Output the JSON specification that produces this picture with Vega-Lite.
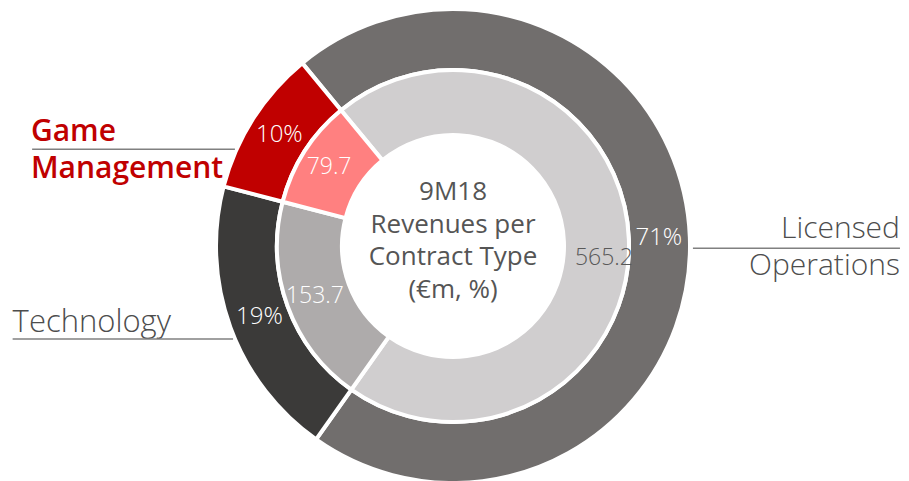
{
  "$schema": "https://vega.github.io/schema/vega-lite/v6.json",
  "width": 906,
  "height": 470,
  "autosize": {"type": "none"},
  "padding": {"left": 0, "right": 3, "top": 11, "bottom": 0},
  "background": "white",
  "config": {"view": {"stroke": null}, "font": "Open Sans"},
  "data": {"values": [
    {"contract": "Licensed Operations", "order": 1, "revenue": 565.2, "share": 0.71},
    {"contract": "Technology", "order": 2, "revenue": 153.7, "share": 0.19},
    {"contract": "Game Management", "order": 3, "revenue": 79.7, "share": 0.10}
  ]},
  "layer": [
    {
      "mark": {"type": "arc", "innerRadius": 176, "outerRadius": 237, "stroke": "white", "strokeWidth": 4},
      "encoding": {
        "theta": {"field": "revenue", "type": "quantitative", "stack": true, "scale": {"range": [-0.6894, 5.5938]}},
        "order": {"field": "order", "type": "quantitative"},
        "color": {"field": "contract", "type": "nominal", "legend": null,
          "scale": {"domain": ["Licensed Operations", "Technology", "Game Management"], "range": ["#716e6d", "#3b3a39", "#c00000"]}}
      }
    },
    {
      "mark": {"type": "arc", "innerRadius": 111, "outerRadius": 176, "stroke": "white", "strokeWidth": 4},
      "encoding": {
        "theta": {"field": "revenue", "type": "quantitative", "stack": true, "scale": {"range": [-0.6894, 5.5938]}},
        "order": {"field": "order", "type": "quantitative"},
        "color": {"field": "contract", "type": "nominal", "legend": null,
          "scale": {"domain": ["Licensed Operations", "Technology", "Game Management"], "range": ["#d0cecf", "#aeabab", "#ff8080"]}}
      }
    },
    {
      "mark": {"type": "text", "radius": 206, "fill": "white", "fontSize": 24, "fontWeight": 300, "align": "center", "baseline": "middle"},
      "encoding": {
        "theta": {"field": "revenue", "type": "quantitative", "stack": true, "scale": {"range": [-0.6894, 5.5938]}},
        "order": {"field": "order", "type": "quantitative"},
        "detail": {"field": "contract", "type": "nominal"},
        "text": {"field": "share", "type": "quantitative", "format": ".0%"}
      }
    },
    {
      "mark": {"type": "text", "radius": 147, "fill": "white", "fontSize": 23, "fontWeight": 300, "align": "center", "baseline": "middle"},
      "encoding": {
        "theta": {"field": "revenue", "type": "quantitative", "stack": true, "scale": {"range": [-0.6894, 5.5938]}},
        "order": {"field": "order", "type": "quantitative"},
        "detail": {"field": "contract", "type": "nominal"},
        "text": {"condition": {"test": "datum.contract === 'Licensed Operations'", "value": ""}, "field": "revenue", "type": "quantitative", "format": ".1f"}
      }
    },
    {
      "mark": {"type": "text", "radius": 151, "fill": "#595959", "fontSize": 23, "fontWeight": 300, "align": "center", "baseline": "middle", "dy": 18},
      "encoding": {
        "theta": {"field": "revenue", "type": "quantitative", "stack": true, "scale": {"range": [-0.6894, 5.5938]}},
        "order": {"field": "order", "type": "quantitative"},
        "detail": {"field": "contract", "type": "nominal"},
        "text": {"condition": {"test": "datum.contract !== 'Licensed Operations'", "value": ""}, "field": "revenue", "type": "quantitative", "format": ".1f"}
      }
    },
    {
      "data": {"values": [{}]},
      "mark": {"type": "text", "text": ["9M18", "Revenues per", "Contract Type", "(€m, %)"], "lineHeight": 32.7, "fontSize": 26, "fill": "#555555", "align": "center", "baseline": "alphabetic"},
      "encoding": {
        "x": {"datum": 0, "type": "quantitative", "scale": {"domain": [-1.9277, 1.9277], "nice": false, "zero": false}, "axis": null},
        "y": {"datum": 0.1957, "type": "quantitative", "scale": {"domain": [-1, 1], "nice": false, "zero": false}, "axis": null}
      }
    },
    {
      "data": {"values": [{}]},
      "mark": {"type": "text", "text": ["Game", "Management"], "lineHeight": 37.5, "fontSize": 30, "fontWeight": 600, "fill": "#c00000", "align": "left", "baseline": "alphabetic"},
      "encoding": {
        "x": {"datum": -1.796, "type": "quantitative", "scale": {"domain": [-1.9277, 1.9277], "nice": false, "zero": false}, "axis": null},
        "y": {"datum": 0.448, "type": "quantitative", "scale": {"domain": [-1, 1], "nice": false, "zero": false}, "axis": null}
      }
    },
    {
      "data": {"values": [{}]},
      "mark": {"type": "text", "text": "Technology", "fontSize": 31, "fontWeight": 300, "fill": "#4d4d4d", "align": "left", "baseline": "alphabetic"},
      "encoding": {
        "x": {"datum": -1.874, "type": "quantitative", "scale": {"domain": [-1.9277, 1.9277], "nice": false, "zero": false}, "axis": null},
        "y": {"datum": -0.367, "type": "quantitative", "scale": {"domain": [-1, 1], "nice": false, "zero": false}, "axis": null}
      }
    },
    {
      "data": {"values": [{}]},
      "mark": {"type": "text", "text": "Licensed", "fontSize": 30, "fontWeight": 300, "fill": "#4d4d4d", "align": "right", "baseline": "alphabetic"},
      "encoding": {
        "x": {"datum": 1.902, "type": "quantitative", "scale": {"domain": [-1.9277, 1.9277], "nice": false, "zero": false}, "axis": null},
        "y": {"datum": 0.036, "type": "quantitative", "scale": {"domain": [-1, 1], "nice": false, "zero": false}, "axis": null}
      }
    },
    {
      "data": {"values": [{}]},
      "mark": {"type": "text", "text": "Operations", "fontSize": 30, "fontWeight": 300, "fill": "#4d4d4d", "align": "right", "baseline": "alphabetic"},
      "encoding": {
        "x": {"datum": 1.902, "type": "quantitative", "scale": {"domain": [-1.9277, 1.9277], "nice": false, "zero": false}, "axis": null},
        "y": {"datum": -0.1255, "type": "quantitative", "scale": {"domain": [-1, 1], "nice": false, "zero": false}, "axis": null}
      }
    },
    {
      "data": {"values": [{}]},
      "mark": {"type": "rule", "stroke": "#808080", "strokeWidth": 1.5},
      "encoding": {
        "x": {"datum": -1.791, "type": "quantitative", "scale": {"domain": [-1.9277, 1.9277], "nice": false, "zero": false}, "axis": null},
        "x2": {"datum": -0.928},
        "y": {"datum": 0.412, "type": "quantitative", "scale": {"domain": [-1, 1], "nice": false, "zero": false}, "axis": null}
      }
    },
    {
      "data": {"values": [{}]},
      "mark": {"type": "rule", "stroke": "#808080", "strokeWidth": 1.5},
      "encoding": {
        "x": {"datum": -1.874, "type": "quantitative", "scale": {"domain": [-1.9277, 1.9277], "nice": false, "zero": false}, "axis": null},
        "x2": {"datum": -0.936},
        "y": {"datum": -0.396, "type": "quantitative", "scale": {"domain": [-1, 1], "nice": false, "zero": false}, "axis": null}
      }
    },
    {
      "data": {"values": [{}]},
      "mark": {"type": "rule", "stroke": "#808080", "strokeWidth": 1.5},
      "encoding": {
        "x": {"datum": 1.021, "type": "quantitative", "scale": {"domain": [-1.9277, 1.9277], "nice": false, "zero": false}, "axis": null},
        "x2": {"datum": 1.902},
        "y": {"datum": -0.0098, "type": "quantitative", "scale": {"domain": [-1, 1], "nice": false, "zero": false}, "axis": null}
      }
    }
  ],
  "resolve": {"scale": {"color": "independent"}}
}
